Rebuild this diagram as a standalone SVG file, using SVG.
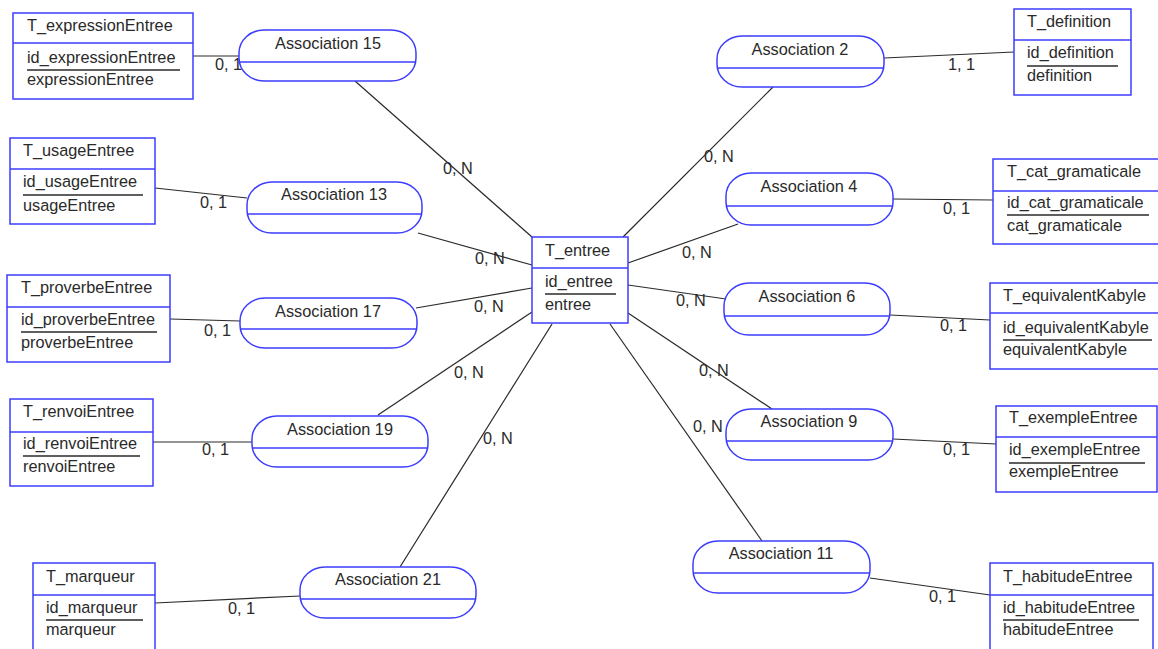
<svg xmlns="http://www.w3.org/2000/svg" width="1158" height="649" viewBox="0 0 1158 649">
<style>
text{font-family:"Liberation Sans",Arial,sans-serif;font-size:16.3px;fill:#2a2a2a}
.box{fill:#fff;stroke:#3c3cff;stroke-width:1.5}
.div{stroke:#3c3cff;stroke-width:1.5}
.ul{stroke:#2a2a2a;stroke-width:1.5}
.c{stroke:#2a2a2a;stroke-width:1.2;fill:none}
.m{text-anchor:middle}
</style>
<rect width="1158" height="649" fill="#fff"/>
<g id="connectors">
<line class="c" x1="193" y1="56" x2="239" y2="56"/>
<line class="c" x1="884" y1="58" x2="1014" y2="52"/>
<line class="c" x1="155" y1="188" x2="247" y2="198"/>
<line class="c" x1="893" y1="199" x2="993" y2="200"/>
<line class="c" x1="170" y1="319" x2="240" y2="321"/>
<line class="c" x1="890" y1="315" x2="990" y2="320"/>
<line class="c" x1="153" y1="442" x2="252" y2="442"/>
<line class="c" x1="893" y1="439" x2="996" y2="444"/>
<line class="c" x1="155" y1="603" x2="300" y2="596"/>
<line class="c" x1="870" y1="578" x2="990" y2="595"/>
<line class="c" x1="355" y1="81" x2="532" y2="237"/>
<line class="c" x1="418" y1="233" x2="532" y2="265"/>
<line class="c" x1="416" y1="308" x2="532" y2="288"/>
<line class="c" x1="378" y1="415" x2="532" y2="312"/>
<line class="c" x1="400" y1="567" x2="552" y2="324"/>
<line class="c" x1="610" y1="324" x2="762" y2="541"/>
<line class="c" x1="628" y1="313" x2="772" y2="409"/>
<line class="c" x1="628" y1="285" x2="726" y2="299"/>
<line class="c" x1="628" y1="263" x2="738" y2="224"/>
<line class="c" x1="623" y1="237" x2="773" y2="87"/>
<text x="215" y="70">0, 1</text>
<text x="948" y="70">1, 1</text>
<text x="200" y="208">0, 1</text>
<text x="943" y="214">0, 1</text>
<text x="204" y="336">0, 1</text>
<text x="940" y="331">0, 1</text>
<text x="202" y="455">0, 1</text>
<text x="943" y="455">0, 1</text>
<text x="228" y="614">0, 1</text>
<text x="929" y="602">0, 1</text>
<text x="443" y="174">0, N</text>
<text x="475" y="264">0, N</text>
<text x="474" y="312">0, N</text>
<text x="454" y="378">0, N</text>
<text x="483" y="444">0, N</text>
<text x="704" y="162">0, N</text>
<text x="682" y="258">0, N</text>
<text x="676" y="306">0, N</text>
<text x="699" y="376">0, N</text>
<text x="693" y="432">0, N</text>
</g>
<g id="T_entree"><rect class="box" x="532" y="237" width="96" height="86"/><line class="div" x1="532" y1="268" x2="628" y2="268"/><text x="545" y="256">T_entree</text><text x="545" y="287">id_entree</text><line class="ul" x1="545" y1="294" x2="616" y2="294"/><text x="545" y="310">entree</text></g>
<g id="T_expressionEntree"><rect class="box" x="13" y="13" width="180" height="86"/><line class="div" x1="13" y1="43" x2="193" y2="43"/><text x="27" y="31">T_expressionEntree</text><text x="27" y="63">id_expressionEntree</text><line class="ul" x1="27" y1="70" x2="180" y2="70"/><text x="27" y="85">expressionEntree</text></g>
<g id="T_definition"><rect class="box" x="1014" y="9" width="117" height="86"/><line class="div" x1="1014" y1="40" x2="1131" y2="40"/><text x="1027" y="27">T_definition</text><text x="1027" y="58">id_definition</text><line class="ul" x1="1027" y1="66" x2="1118" y2="66"/><text x="1027" y="81">definition</text></g>
<g id="T_usageEntree"><rect class="box" x="10" y="138" width="145" height="86"/><line class="div" x1="10" y1="169" x2="155" y2="169"/><text x="23" y="156">T_usageEntree</text><text x="23" y="187">id_usageEntree</text><line class="ul" x1="23" y1="195" x2="143" y2="195"/><text x="23" y="211">usageEntree</text></g>
<g id="T_proverbeEntree"><rect class="box" x="7" y="275" width="163" height="87"/><line class="div" x1="7" y1="307" x2="170" y2="307"/><text x="21" y="293">T_proverbeEntree</text><text x="21" y="325">id_proverbeEntree</text><line class="ul" x1="21" y1="332" x2="157" y2="332"/><text x="21" y="348">proverbeEntree</text></g>
<g id="T_renvoiEntree"><rect class="box" x="10" y="399" width="143" height="87"/><line class="div" x1="10" y1="432" x2="153" y2="432"/><text x="23" y="417">T_renvoiEntree</text><text x="23" y="449">id_renvoiEntree</text><line class="ul" x1="23" y1="456" x2="140" y2="456"/><text x="23" y="472">renvoiEntree</text></g>
<g id="T_marqueur"><rect class="box" x="33" y="563" width="122" height="92"/><line class="div" x1="33" y1="595" x2="155" y2="595"/><text x="46" y="582">T_marqueur</text><text x="46" y="613">id_marqueur</text><line class="ul" x1="46" y1="620" x2="143" y2="620"/><text x="46" y="635">marqueur</text></g>
<g id="T_cat_gramaticale"><rect class="box" x="993" y="159" width="170" height="85"/><line class="div" x1="993" y1="191" x2="1163" y2="191"/><text x="1007" y="177">T_cat_gramaticale</text><text x="1007" y="208">id_cat_gramaticale</text><line class="ul" x1="1007" y1="215" x2="1149" y2="215"/><text x="1007" y="231">cat_gramaticale</text></g>
<g id="T_equivalentKabyle"><rect class="box" x="990" y="283" width="175" height="86"/><line class="div" x1="990" y1="313" x2="1165" y2="313"/><text x="1003" y="301">T_equivalentKabyle</text><text x="1003" y="333">id_equivalentKabyle</text><line class="ul" x1="1003" y1="340" x2="1152" y2="340"/><text x="1003" y="355">equivalentKabyle</text></g>
<g id="T_exempleEntree"><rect class="box" x="996" y="406" width="161" height="86"/><line class="div" x1="996" y1="437" x2="1157" y2="437"/><text x="1009" y="423">T_exempleEntree</text><text x="1009" y="455">id_exempleEntree</text><line class="ul" x1="1009" y1="463" x2="1145" y2="463"/><text x="1009" y="477">exempleEntree</text></g>
<g id="T_habitudeEntree"><rect class="box" x="990" y="563" width="163" height="92"/><line class="div" x1="990" y1="595" x2="1153" y2="595"/><text x="1003" y="582">T_habitudeEntree</text><text x="1003" y="613">id_habitudeEntree</text><line class="ul" x1="1003" y1="620" x2="1139" y2="620"/><text x="1003" y="635">habitudeEntree</text></g>
<g id="Association15"><rect class="box" x="239" y="30" width="177" height="51" rx="25" ry="23"/><line class="div" x1="239" y1="62" x2="416" y2="62"/><text class="m" x="328" y="49">Association 15</text></g>
<g id="Association2"><rect class="box" x="717" y="36" width="167" height="51" rx="25" ry="23"/><line class="div" x1="717" y1="68" x2="884" y2="68"/><text class="m" x="800" y="55">Association 2</text></g>
<g id="Association13"><rect class="box" x="247" y="182" width="175" height="51" rx="25" ry="23"/><line class="div" x1="247" y1="214" x2="422" y2="214"/><text class="m" x="334" y="200">Association 13</text></g>
<g id="Association4"><rect class="box" x="726" y="173" width="167" height="52" rx="25" ry="23"/><line class="div" x1="726" y1="206" x2="893" y2="206"/><text class="m" x="809" y="192">Association 4</text></g>
<g id="Association17"><rect class="box" x="240" y="298" width="177" height="50" rx="25" ry="23"/><line class="div" x1="240" y1="329" x2="417" y2="329"/><text class="m" x="328" y="317">Association 17</text></g>
<g id="Association6"><rect class="box" x="724" y="283" width="166" height="52" rx="25" ry="23"/><line class="div" x1="724" y1="316" x2="890" y2="316"/><text class="m" x="807" y="302">Association 6</text></g>
<g id="Association19"><rect class="box" x="252" y="416" width="176" height="51" rx="25" ry="23"/><line class="div" x1="252" y1="448" x2="428" y2="448"/><text class="m" x="340" y="435">Association 19</text></g>
<g id="Association9"><rect class="box" x="726" y="409" width="167" height="51" rx="25" ry="23"/><line class="div" x1="726" y1="441" x2="893" y2="441"/><text class="m" x="809" y="427">Association 9</text></g>
<g id="Association21"><rect class="box" x="300" y="567" width="176" height="51" rx="25" ry="23"/><line class="div" x1="300" y1="599" x2="476" y2="599"/><text class="m" x="388" y="585">Association 21</text></g>
<g id="Association11"><rect class="box" x="693" y="541" width="177" height="52" rx="25" ry="23"/><line class="div" x1="693" y1="573" x2="870" y2="573"/><text class="m" x="781" y="559">Association 11</text></g>
</svg>
